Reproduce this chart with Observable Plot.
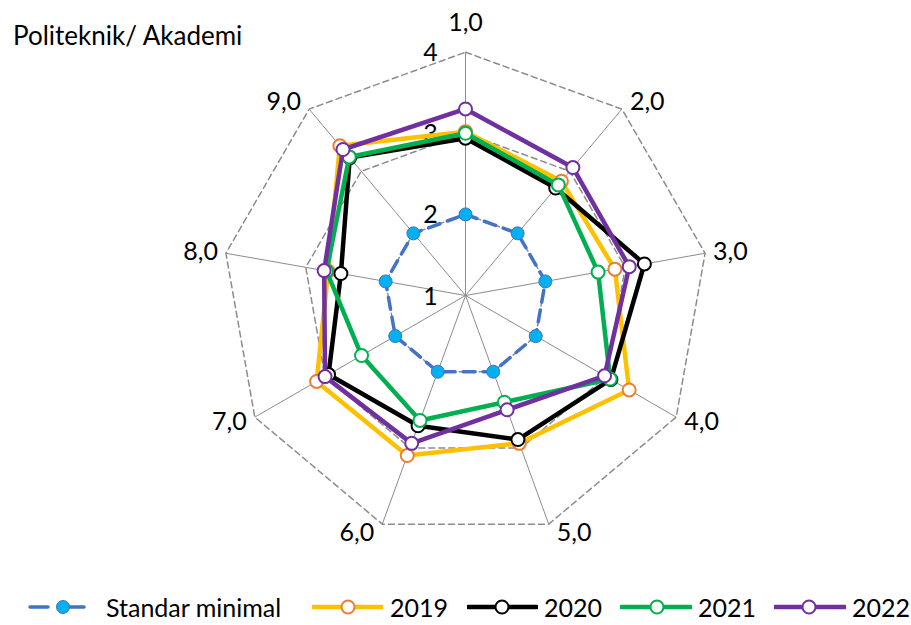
<!DOCTYPE html>
<html>
<head>
<meta charset="utf-8">
<script src="https://cdn.jsdelivr.net/npm/d3@7"></script>
<script src="https://cdn.jsdelivr.net/npm/@observablehq/plot@0.6"></script>
<style>
  html, body { margin: 0; padding: 0; background: #fff; }
  #wrap { position: relative; width: 911px; height: 625px; font-family: Lato, "Open Sans", sans-serif; color: #000; }
  #title { position: absolute; left: 13px; top: 22px; font-size: 26px; line-height: 26px; white-space: nowrap; }
  #chart { position: absolute; left: 0; top: 0; }
  #legend { position: absolute; left: 0; top: 594px; width: 911px; height: 26px; }
  .sw { position: absolute; top: 0; }
  .sw svg { display: block; }
  .lt { position: absolute; top: 0; height: 26px; line-height: 26px; font-size: 25px; white-space: nowrap; }
</style>
</head>
<body>
<div id="wrap">
  <div id="chart"></div>
  <div id="title">Politeknik/ Akademi</div>
  <div id="legend"></div>
</div>
<script>
// ---- data ----
const categories = ["1,0", "2,0", "3,0", "4,0", "5,0", "6,0", "7,0", "8,0", "9,0"];
const standarMinimal = [2, 2, 2, 2, 2, 2, 2, 2, 2];
const y2019 = [3.02, 2.84, 2.87, 3.33, 2.94, 3.10, 3.12, 2.72, 3.41];
const y2020 = [2.94, 2.73, 3.24, 3.07, 2.89, 2.71, 2.95, 2.56, 3.22];
const y2021 = [3.00, 2.78, 2.66, 3.06, 2.40, 2.64, 2.48, 2.74, 3.23];
const y2022 = [3.30, 3.06, 3.05, 2.98, 2.50, 2.94, 3.00, 2.77, 3.35];
const tickValues = [1, 2, 3, 4];
const seriesNames = ["Standar minimal", "2019", "2020", "2021", "2022"];

const seriesValues = [standarMinimal, y2019, y2020, y2021, y2022];
const lineColors = ["#4472C4", "#FFC000", "#000000", "#00B050", "#7030A0"];
const markerStroke = ["#4472C4", "#ED7D31", "#000000", "#00B050", "#7030A0"];
const markerFill = ["#00B0F0", "#ffffff", "#ffffff", "#ffffff", "#ffffff"];

// ---- geometry helpers (value -> polar) ----
const rMin = 1, rMax = 4;
const n = categories.length;
const angle = i => (i * 2 * Math.PI) / n;
const px = (v, i) => (v - rMin) * Math.sin(angle(i));
const py = (v, i) => (v - rMin) * Math.cos(angle(i));

const W = 911, H = 590, unit = 81.1, cx = 465, cy = 295;

const spokes = categories.map((c, i) => ({c, x1: 0, y1: 0, x2: px(rMax, i), y2: py(rMax, i)}));
const rings = [2, 3, 4].flatMap(t => categories.map((c, i) => ({t, x: px(t, i), y: py(t, i)})));

// category labels: placed just outside the outer vertex (pixel gaps converted to data units)
const catLabels = categories.map((c, i) => {
  const s = Math.sin(angle(i)), co = Math.cos(angle(i));
  let anchor, gx, gy;
  if (Math.abs(s) < 0.1) { anchor = "middle"; gx = 0; gy = co * 29; }
  else { anchor = s > 0 ? "start" : "end"; gx = (s > 0 ? 8 : -8); gy = co * 9; }
  return {c, anchor, x: px(rMax, i) + gx / unit, y: py(rMax, i) + gy / unit};
});
const tickLabels = tickValues.map(t => ({t, x: 0, y: t - rMin}));

const labelStyle = {fontSize: 25, fill: "#000"};
const marks = [
  Plot.link(spokes, {x1: "x1", y1: "y1", x2: "x2", y2: "y2", stroke: "#8c8c8c", strokeWidth: 1}),
  Plot.line(rings, {x: "x", y: "y", z: "t", curve: "linear-closed", stroke: "#8c8c8c", strokeWidth: 1.5, strokeDasharray: "6,4"}),
  ...["start", "middle", "end"].map(a =>
    Plot.text(catLabels.filter(d => d.anchor === a), {x: "x", y: "y", text: "c", textAnchor: a, ...labelStyle})),
  Plot.text(tickLabels, {x: "x", y: "y", text: d => String(d.t), dx: -35, dy: 1, textAnchor: "middle", ...labelStyle})
];

seriesValues.forEach((vals, s) => {
  const pts = vals.map((v, i) => ({cat: categories[i], x: px(v, i), y: py(v, i)}));
  marks.push(Plot.line(pts, {
    x: "x", y: "y", curve: "linear-closed", stroke: lineColors[s],
    strokeWidth: s === 0 ? 3.5 : 4.5,
    strokeDasharray: s === 0 ? "12,8" : null,
    strokeLinejoin: "round"
  }));
  marks.push(Plot.dot(pts, {x: "x", y: "y", r: 6.5, fill: markerFill[s], stroke: markerStroke[s], strokeWidth: s === 0 ? 1 : 2}));
});

const chart = Plot.plot({
  width: W, height: H,
  marginTop: 0, marginBottom: 0, marginLeft: 0, marginRight: 0,
  x: {domain: [-cx / unit, (W - cx) / unit], axis: null},
  y: {domain: [-(H - cy) / unit, cy / unit], axis: null},
  style: {fontFamily: "Lato, 'Open Sans', sans-serif", background: "white", overflow: "visible"},
  marks
});
document.getElementById("chart").appendChild(chart);

// ---- legend ----
const swLeft = [28, 312, 467, 620, 774];
const swWidth = [58, 71, 71, 72, 72];
const swDot = [35, 36, 35, 37, 35];
const textLeft = [106, 390, 544, 698, 852];
const legend = document.getElementById("legend");
const LH = 26;
seriesNames.forEach((name, s) => {
  const box = document.createElement("div");
  box.className = "sw";
  box.style.left = swLeft[s] + "px";
  const w = swWidth[s];
  const svg = d3.create("svg").attr("width", w).attr("height", LH);
  const my = LH / 2;
  if (s === 0) {
    svg.append("line").attr("x1", 2).attr("x2", 20).attr("y1", my).attr("y2", my)
      .attr("stroke", lineColors[s]).attr("stroke-width", 3.5).attr("stroke-linecap", "round");
    svg.append("line").attr("x1", 40).attr("x2", w - 2).attr("y1", my).attr("y2", my)
      .attr("stroke", lineColors[s]).attr("stroke-width", 3.5).attr("stroke-linecap", "round");
  } else {
    svg.append("line").attr("x1", 1).attr("x2", w - 1).attr("y1", my).attr("y2", my)
      .attr("stroke", lineColors[s]).attr("stroke-width", 4.5).attr("stroke-linecap", "round");
  }
  svg.append("circle").attr("cx", swDot[s]).attr("cy", my).attr("r", 6.5)
    .attr("fill", markerFill[s]).attr("stroke", markerStroke[s]).attr("stroke-width", s === 0 ? 1 : 2);
  box.appendChild(svg.node());
  legend.appendChild(box);
  const label = document.createElement("div");
  label.className = "lt";
  label.style.left = textLeft[s] + "px";
  label.textContent = name;
  legend.appendChild(label);
});
</script>
</body>
</html>
